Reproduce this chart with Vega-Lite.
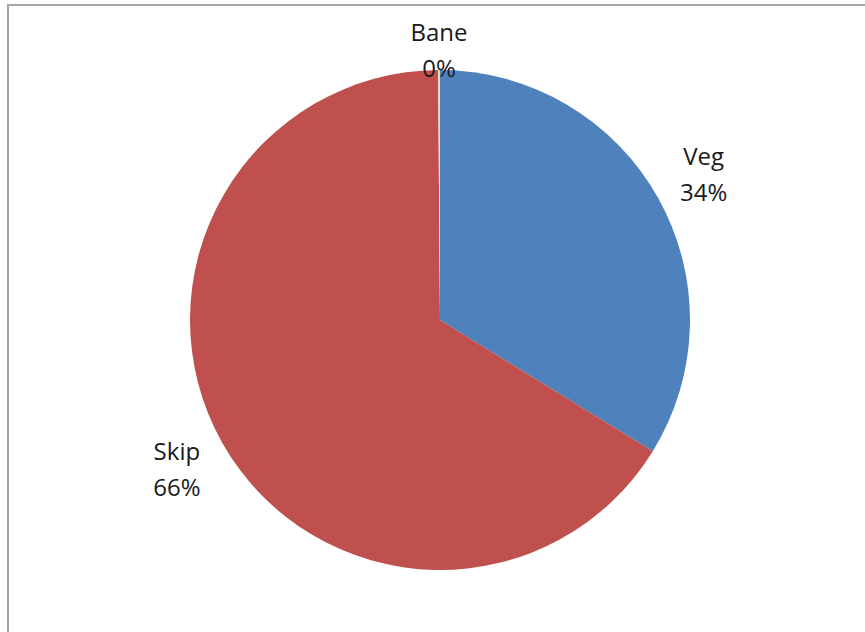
{
  "$schema": "https://vega.github.io/schema/vega-lite/v6.json",
  "autosize": "none",
  "width": 864,
  "height": 630,
  "padding": {"left": 8, "top": 5, "right": 0, "bottom": 0},
  "background": "white",
  "view": {"stroke": "#a6a6a6", "strokeWidth": 2},
  "data": {"values": [
    {"category": "Veg", "value": 33.8, "pct": "34%"},
    {"category": "Skip", "value": 66.1, "pct": "66%"},
    {"category": "Bane", "value": 0.12, "pct": "0%"}
  ]},
  "transform": [{"calculate": "[datum.category, datum.pct]", "as": "label"}],
  "encoding": {
    "theta": {"field": "value", "type": "quantitative", "stack": true},
    "order": {"field": "category", "sort": "descending"},
    "color": {"field": "category", "type": "nominal",
      "scale": {"domain": ["Veg", "Skip", "Bane"], "range": ["#4f81bd", "#c0504d", "#e8d9c0"]}, "legend": null}
  },
  "layer": [
    {"mark": {"type": "arc", "outerRadius": 250}},
    {"mark": {"type": "text", "radius": {"expr": "datum.category === 'Bane' ? 271 : 302"}, "dy": -15, "font": "Open Sans", "fontSize": 24, "lineHeight": 36, "fill": "#1a1a1a"},
     "encoding": {"text": {"field": "label"}, "color": {"value": "#1a1a1a"}}}
  ]
}
